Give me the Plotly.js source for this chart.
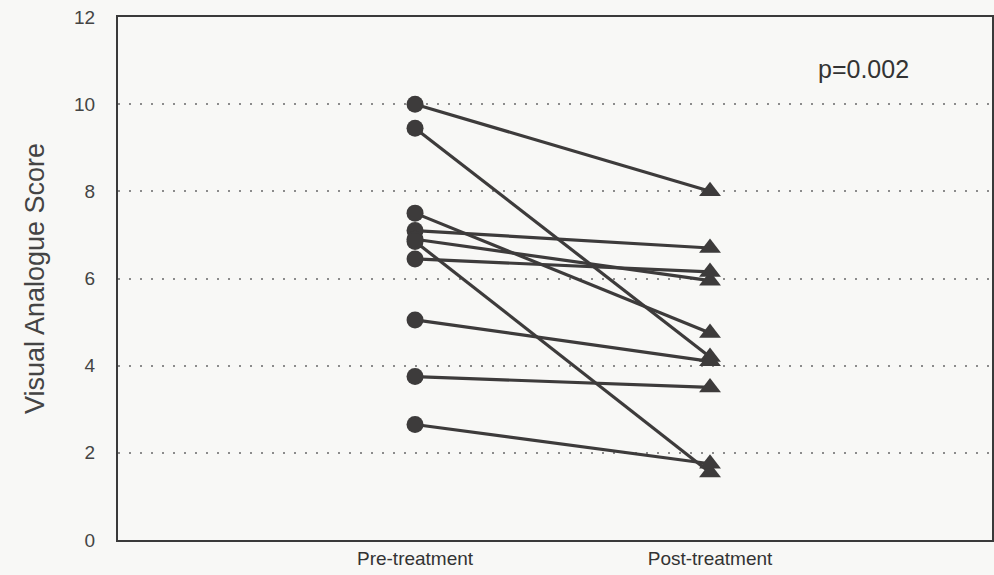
<!DOCTYPE html>
<html>
<head>
<meta charset="utf-8">
<script src="https://cdn.plot.ly/plotly-3.0.1.min.js"></script>
<style>
  html, body { margin: 0; padding: 0; background: #f8f8f6; }
  #chart { width: 994px; height: 575px; }
</style>
</head>
<body>
<div id="chart"></div>
<script>
// Visual analogue scores per patient, before and after treatment
const phases = ['Pre-treatment', 'Post-treatment'];
const preScores  = [10.0, 9.45, 7.5, 7.1, 6.9, 6.85, 6.45, 5.05, 3.75, 2.65];
const postScores = [8.0, 4.2, 4.75, 6.7, 5.95, 1.55, 6.15, 4.1, 3.5, 1.75];
const yTicks = [0, 2, 4, 6, 8, 10, 12];
const pValueText = 'p=0.002';

const ink = '#3d3b3b';

const traces = preScores.map((pre, i) => ({
  type: 'scatter',
  mode: 'lines+markers',
  x: [0, 1],
  y: [pre, postScores[i]],
  line: { color: ink, width: 3.2 },
  marker: {
    color: ink,
    opacity: 1,
    symbol: ['circle', 'triangle-up'],
    size: [17, 19],
    line: { width: 0 }
  },
  hoverinfo: 'skip',
  showlegend: false
}));

const layout = {
  width: 994,
  height: 575,
  margin: { l: 118, r: 2, t: 17, b: 35 },
  paper_bgcolor: '#f8f8f6',
  plot_bgcolor: '#f8f8f6',
  font: { family: 'Liberation Sans, Arial, sans-serif', color: '#333' },
  xaxis: {
    range: [-1.007, 1.956],
    tickvals: [0, 1],
    ticktext: phases,
    showgrid: false,
    zeroline: false,
    showline: true,
    mirror: true,
    linecolor: '#3a3a3a',
    linewidth: 2,
    ticks: '',
    tickfont: { size: 19, color: '#333' },
    fixedrange: true
  },
  yaxis: {
    range: [0, 12],
    tickvals: yTicks,
    ticktext: yTicks.map(String),
    showgrid: true,
    gridcolor: '#8c8c8c',
    gridwidth: 2,
    griddash: '2px,9px',
    zeroline: false,
    showline: true,
    mirror: true,
    linecolor: '#3a3a3a',
    linewidth: 2,
    ticks: '',
    ticklabelstandoff: 17,
    tickfont: { size: 19, color: '#444' },
    title: {
      text: 'Visual Analogue Score',
      font: { size: 27, color: '#444' },
      standoff: 22
    },
    fixedrange: true
  },
  annotations: [{
    text: pValueText,
    xref: 'paper', yref: 'paper',
    x: 0.799, y: 0.9,
    xanchor: 'left', yanchor: 'middle',
    showarrow: false,
    font: { size: 25, color: '#333' }
  }]
};

Plotly.newPlot('chart', traces, layout, { displayModeBar: false, staticPlot: true });
</script>
</body>
</html>
